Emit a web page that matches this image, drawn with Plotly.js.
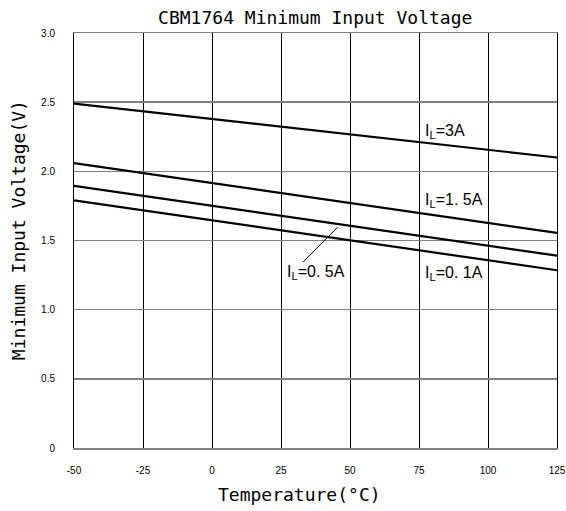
<!DOCTYPE html>
<html>
<head>
<meta charset="utf-8">
<script src="https://cdn.plot.ly/plotly-3.0.1.min.js"></script>
<style>html,body{margin:0;padding:0;background:#fff;}#chart{width:566px;height:511px;}</style>
</head>
<body>
<div id="chart"></div>
<script>
var temps = [-50, 125];
var il3A = [2.49, 2.10];
var il15A = [2.06, 1.555];
var il05A = [1.895, 1.39];
var il01A = [1.79, 1.285];
var xTicks = [-50, -25, 0, 25, 50, 75, 100, 125];
var yTicks = [0, 0.5, 1.0, 1.5, 2.0, 2.5, 3.0];
var yTickText = ['0', '0.5', '1.0', '1.5', '2.0', '2.5', '3.0'];
var labels = ['I<sub>L</sub>=3A', 'I<sub>L</sub>=1. 5A', 'I<sub>L</sub>=0. 5A', 'I<sub>L</sub>=0. 1A'];
var labelX = [76.5, 76.5, 26.5, 76.5];
var labelY = [2.29, 1.79, 1.27, 1.265];
var leader = {x0: 33, y0: 1.345, x1: 45.6, y1: 1.598};
var chartTitle = 'CBM1764 Minimum Input Voltage';
var xTitle = 'Temperature(°C)';
var yTitle = 'Minimum Input Voltage(V)';

var series = [il3A, il15A, il05A, il01A];
var traces = series.map(function (s, i) {
  return {x: temps, y: s, type: 'scatter', mode: 'lines',
          line: {color: '#000', width: 2.2}, hoverinfo: 'skip', name: labels[i]};
});

var monoFont = {family: 'DejaVu Sans Mono, monospace', size: 18, color: '#000'};
var tickFont = {family: 'Liberation Sans, Arial, sans-serif', size: 10, color: '#000'};

var annotations = labels.map(function (t, i) {
  return {x: labelX[i], y: labelY[i], xref: 'x', yref: 'y', text: t, showarrow: false,
          xanchor: 'left', yanchor: 'middle',
          font: {family: 'Liberation Sans, Arial, sans-serif', size: 16, color: '#000'}};
});
annotations.push({x: 0.466, y: 0, xref: 'paper', yref: 'paper', yshift: -46, text: xTitle,
                  showarrow: false, xanchor: 'center', yanchor: 'middle', font: monoFont});
annotations.push({x: 0, y: 0.525, xref: 'paper', yref: 'paper', xshift: -56, text: yTitle, textangle: -90,
                  showarrow: false, xanchor: 'center', yanchor: 'middle', font: monoFont});

var layout = {
  width: 566, height: 511,
  margin: {l: 74, r: 9, t: 33, b: 63},
  paper_bgcolor: '#fff', plot_bgcolor: '#fff',
  showlegend: false,
  title: {text: chartTitle, font: monoFont, x: 0.557, xanchor: 'center', y: 0.966, yanchor: 'middle'},
  xaxis: {
    range: [-50, 125], tickvals: xTicks, ticktext: xTicks.map(String),
    showgrid: true, gridcolor: '#000', gridwidth: 1,
    showline: true, linecolor: '#808080', linewidth: 1.5, mirror: true,
    zeroline: false, ticks: '', ticklabelstandoff: 12, tickfont: tickFont
  },
  yaxis: {
    range: [0, 3.0], tickvals: yTicks, ticktext: yTickText,
    showgrid: true, gridcolor: '#808080', gridwidth: 1.5,
    showline: true, linecolor: '#000', linewidth: 1, mirror: true,
    zeroline: false, ticks: '', ticklabelstandoff: 16, tickfont: tickFont
  },
  annotations: annotations,
  shapes: [{type: 'line', xref: 'x', yref: 'y', x0: leader.x0, y0: leader.y0, x1: leader.x1, y1: leader.y1,
            line: {color: '#000', width: 1}}]
};

Plotly.newPlot('chart', traces, layout, {displayModeBar: false, staticPlot: true});
</script>
</body>
</html>
